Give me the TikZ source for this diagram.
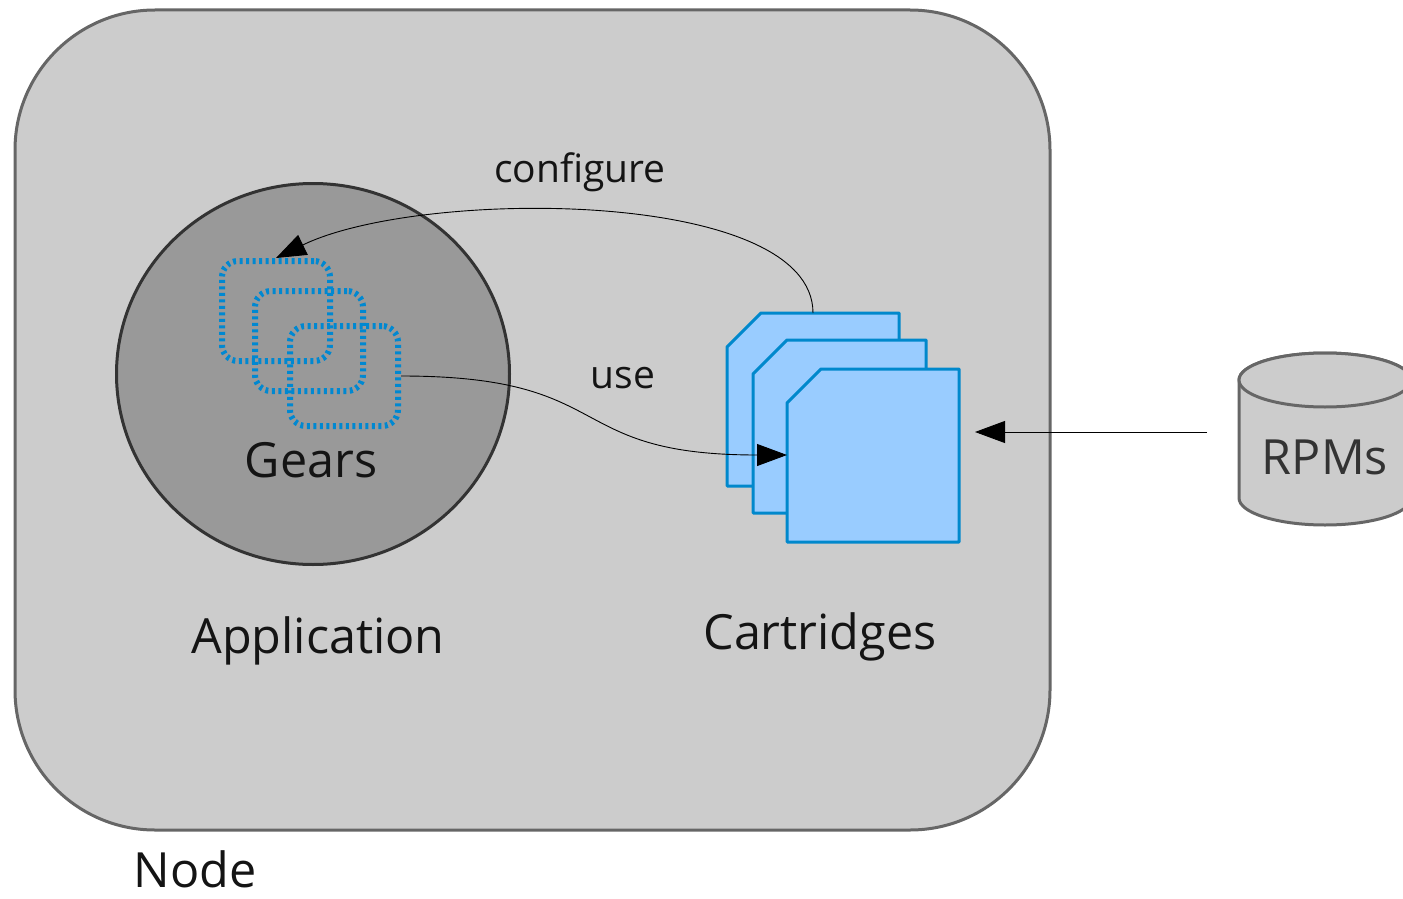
\documentclass[tikz,border=0pt]{standalone}
\usepackage{fontspec}
\setmainfont{Open Sans}
\usetikzlibrary{arrows.meta,shapes.geometric}
\definecolor{outerfill}{HTML}{CCCCCC}
\definecolor{outerline}{HTML}{666666}
\definecolor{appfill}{HTML}{999999}
\definecolor{appline}{HTML}{333333}
\definecolor{gearblue}{HTML}{0088D1}
\definecolor{cartfill}{HTML}{99CCFF}
\definecolor{cartline}{HTML}{0088CC}
\begin{document}
\begin{tikzpicture}[x=1pt,y=-1pt,
  big/.style={font=\fontsize{48.5}{56}\selectfont, text=black!92},
  small/.style={font=\fontsize{39}{46}\selectfont, text=black!92},
  gearbox/.style={draw=gearblue,line width=6pt,dash pattern=on 3pt off 3.5pt,rounded corners=16pt,minimum width=108pt,minimum height=100pt,inner sep=0pt},
  card/.style={draw=cartline,fill=cartfill,line width=3pt,line join=round},
  conn/.style={draw=black,line width=0.9pt,-{Triangle[length=30pt,width=22pt]}}]
\useasboundingbox (0,0) rectangle (1403,899);
\fill[white] (0,0) rectangle (1403,899);
% outer node box
\draw[fill=outerfill,draw=outerline,line width=3pt,rounded corners=140pt] (15,10) rectangle (1050,830);
% application
\node (app) [ellipse,draw=appline,fill=appfill,line width=3pt,minimum width=393pt,minimum height=381pt,inner sep=0pt] at (313,374) {};
% gears
\node (g1) [gearbox] at (276,311) {};
\node (g2) [gearbox] at (309,341) {};
\node (g3) [gearbox] at (344,376) {};
% cartridges
\draw[card] (727,347) -- (761,313) -- (899,313) -- (899,486) -- (727,486) -- cycle;
\draw[card] (753,374) -- (787,340) -- (926,340) -- (926,513) -- (753,513) -- cycle;
\draw[card] (787,403) -- (821,369) -- (959,369) -- (959,542) -- (787,542) -- cycle;
\coordinate (c1top) at (813,313);
\coordinate (c3left) at (787,455);
\coordinate (c3in) at (975,432);
% RPMs cylinder
\draw[fill=outerfill,draw=outerline,line width=3pt] (1239,380) -- (1239,498)
  arc[start angle=180,end angle=0,x radius=86,y radius=27] -- (1411,380)
  arc[start angle=0,end angle=-180,x radius=86,y radius=27] -- cycle;
\draw[fill=outerfill,draw=outerline,line width=3pt] (1325,380) ellipse [x radius=86,y radius=27];
\node (rpm) [big,text=black!80] at (1325,457) {RPMs};
\coordinate (rpmsrc) at (1207,432);
% connectors
\draw[conn] (c1top) .. controls (813,188) and (420,188) .. (g1.north);
\draw[conn] (g3.east) .. controls (620,376) and (560,455) .. (c3left);
\draw[conn] (rpmsrc) -- (c3in);
% labels
\node[small] (lconf) at (580,172) {configure};
\node[small] (luse) at (623,378) {use};
\node[big] (lgears) at (311,460) {Gears};
\node[big] (lapp) at (318,641) {Application};
\node[big] (lcart) at (820,637) {Cartridges};
\node[big,inner sep=0pt,anchor=base] (lnode) at (195,887) {Node};
\end{tikzpicture}
\end{document}
